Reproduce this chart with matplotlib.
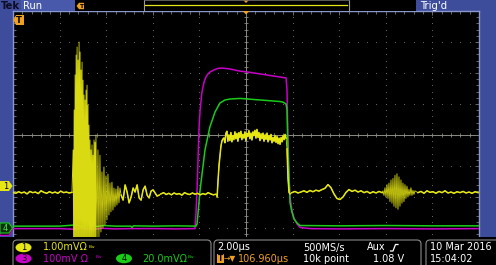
import numpy as np
import matplotlib
matplotlib.use("Agg")
import matplotlib.pyplot as plt
from matplotlib.patches import Rectangle, Polygon, Ellipse, FancyBboxPatch

plt.rcParams['font.family'] = ['DejaVu Sans']

# ---------------- data: time in microseconds (2 us/div), amplitude in screen divisions
x_limits = [-10.0, 10.0]
y_limits = [-4.0, 4.0]

# channel 3 (magenta)
ch3_t = [-10.0, -8.0, -7.4, -7.0, -6.6, -6.2, -5.6, -5.0, -4.0, -3.0,
         -2.19, -2.15, -2.10, -2.06, -2.02, -1.97, -1.89, -1.80, -1.72, -1.63,
         -1.55, -1.37, -1.20, -1.03, -0.69, -0.26, 0.17, 0.60, 1.03, 1.46,
         1.72, 1.76, 1.80, 1.85, 1.89, 1.97, 2.06, 2.19, 2.32, 2.75,
         4.0, 6.0, 8.0, 10.0]
ch3_v = [-3.02, -3.02, -3.04, -3.00, -3.05, -3.01, -3.03, -3.02, -3.02, -3.03,
         -3.02, -2.58, -1.77, -0.81, 0.16, 0.81, 1.39, 1.71, 1.87, 1.97,
         2.03, 2.10, 2.15, 2.16, 2.13, 2.06, 2.02, 1.97, 1.92, 1.87,
         1.84, 1.45, -0.16, -1.45, -2.00, -2.42, -2.68, -2.87, -2.98, -3.02,
         -3.03, -3.02, -3.03, -3.02]

# channel 4 (green)
ch4_t = [-10.0, -8.0, -7.3, -7.0, -6.7, -6.4, -6.1, -5.6, -4.95, -4.89,
         -4.83, -4.0, -3.0, -2.15, -2.10, -1.97, -1.76, -1.55, -1.33, -1.12,
         -0.90, -0.69, -0.26, 0.60, 1.46, 1.59, 1.72, 1.76, 1.80, 1.85,
         1.89, 1.97, 2.06, 2.19, 2.32, 4.0, 6.0, 8.0, 10.0]
ch4_v = [-2.94, -2.94, -2.90, -2.96, -2.89, -2.95, -2.92, -2.94, -2.94, -2.98,
         -2.93, -2.94, -2.93, -2.94, -2.87, -1.77, -0.48, 0.26, 0.74, 1.03,
         1.13, 1.16, 1.18, 1.13, 1.08, 1.06, 1.00, 0.81, -0.48, -1.45,
         -2.19, -2.48, -2.71, -2.84, -2.92, -2.93, -2.92, -2.93, -2.93]

# channel 1 (yellow), read segment by segment (uniform sampling inside each segment)
ch1_pre = [-1.85, -1.88, -1.83, -1.87, -1.84, -1.90, -1.82, -1.86, -1.84, -1.89, -1.80,
           -1.85, -1.88, -1.83, -1.87, -1.84, -1.88, -1.81, -1.86, -1.84, -1.87, -1.85]
ch1_burst_a = [-0.48, -3.55, 0.81, -3.70, 1.94, -3.60, 2.58, -3.75, 2.84, -3.65, 2.42, -3.80,
               3.00, -3.70, 2.68, -3.60, 2.10, -3.75, 2.35, -3.55, 1.77, -3.70, 1.29, -3.60,
               1.13, -3.50, 1.45, -3.65, 1.61, -3.55, 0.97, -3.45, 0.32, -3.60, -0.16, -3.40,
               -0.48, -3.50, -0.32, -3.35, -0.65, -3.45, -0.16, -3.30, -0.23, -3.40]
ch1_burst_b = [0.00, -3.39, -0.48, -3.32, -0.65, -3.13, -1.19, -3.00, -1.03, -2.90, -1.32, -2.74,
               -1.26, -2.58, -1.55, -2.48, -1.52, -2.42, -1.71, -2.32, -1.74, -2.26, -1.65, -2.19, -1.71]
ch1_ring = [-1.94, -2.10, -1.61, -1.84, -2.19, -2.00, -1.71, -1.84, -1.61, -2.03,
            -2.10, -1.77, -1.65, -1.94, -2.03, -1.81, -1.77, -1.87, -1.97, -1.94]
ch1_base = [-1.90, -1.86, -1.92, -1.88, -1.93, -1.87, -1.91, -1.89, -1.94, -1.86, -1.90,
            -1.92, -1.87, -1.91, -1.88, -1.93, -1.89, -1.92, -1.86, -1.90, -1.93, -1.91]
ch1_rise = [-2.00, -1.45, -0.97, -0.65, -0.35, -0.19, -0.13]
ch1_top = [-0.10, -0.25, 0.05, 0.12, -0.20, 0.00, -0.18, 0.08, -0.22, -0.02,
           -0.15, 0.10, -0.12, 0.05, -0.20, 0.08, -0.08, 0.12, -0.15, 0.02,
           -0.10, 0.10, -0.18, 0.05, -0.05, 0.14, -0.12, 0.06, -0.16, 0.10,
           -0.02, 0.15, -0.10, 0.18, -0.08, 0.08, -0.18, 0.04, -0.12, 0.06,
           -0.20, 0.00, -0.14, 0.06, -0.22, -0.02, -0.16, 0.02, -0.25, -0.08,
           -0.20, -0.02, -0.24, -0.05, -0.28, -0.10, -0.30, -0.08, -0.22, -0.02,
           -0.15, 0.02, -0.10]
ch1_fall = [-0.45, -1.40, -1.85, -1.90]
ch1_post = [-1.86, -1.82, -1.87, -1.84, -1.80, -1.85, -1.79, -1.83, -1.78, -1.81, -1.76,
            -1.72, -1.60, -1.70, -1.90, -2.05, -2.08, -2.00, -1.85, -1.76, -1.82, -1.78,
            -1.84, -1.80, -1.86, -1.82, -1.88, -1.83, -1.87, -1.82, -1.86]
ch1_burst2 = [-1.80, -1.95, -1.70, -2.00, -1.60, -2.05, -1.55, -2.15, -1.45, -2.20, -1.40,
              -2.30, -1.30, -2.35, -1.25, -2.40, -1.35, -2.30, -1.45, -2.20, -1.55,
              -2.15, -1.60, -2.05, -1.65, -2.00, -1.75, -1.95, -1.70, -1.95, -1.78, -1.92, -1.80]
ch1_tail = [-1.86, -1.82, -1.88, -1.80, -1.85, -1.83, -1.88, -1.82, -1.86, -1.80, -1.87,
            -1.84, -1.88, -1.83, -1.86, -1.82, -1.87, -1.84, -1.88, -1.83, -1.86]
ch1_segments = [ch1_pre, ch1_burst_a, ch1_burst_b, ch1_ring, ch1_base, ch1_rise,
                ch1_top, ch1_fall, ch1_post, ch1_burst2, ch1_tail]
ch1_seg_start = [-10.00, -7.42, -6.44, -5.36, -3.65, -1.24, -0.95, 1.76, 1.97, 5.88, 7.38]
ch1_seg_end = [-7.47, -6.46, -5.41, -3.73, -1.29, -0.99, 1.72, 1.89, 5.84, 7.25, 9.96]
ch1_is_burst = [False, True, True, False, False, False, False, False, False, True, False]

# readout texts
ch1_scale = "1.00mVΩ"
ch3_scale = "100mV Ω"
ch4_scale = "20.0mVΩ"
time_scale = "2.00µs"
trig_pos = "106.960µs"
sample_rate = "500MS/s"
rec_len = "10k point"
trig_src = "Aux"
trig_level = "1.08 V"
date_txt = "10 Mar 2016"
time_txt = "15:04:02"

# ---------------- styling
BLUE = '#3e4c9c'
RUN_BLUE = '#4858aa'
YEL = '#e6e614'
YEL_BURST = '#dada12'
MAG = '#c800c8'
GRN = '#18cc18'
ORG = '#f0a020'
GRAY = '#7a7a7a'

W, H = 496, 265
fig = plt.figure(figsize=(W / 100, H / 100), dpi=100, facecolor=BLUE)

ax = fig.add_axes([13 / W, 1 - 259 / H, 466 / W, 248 / H], zorder=1)
ax.set_facecolor('black')
ax.set_xlim(*x_limits)
ax.set_ylim(*y_limits)
ax.set_xticks(np.arange(-10, 10.01, 2))
ax.set_xticks(np.arange(-10, 10.01, 0.4), minor=True)
ax.set_yticks(np.arange(-4, 4.01, 1))
ax.set_yticks(np.arange(-4, 4.01, 0.2), minor=True)
ax.tick_params(which='both', direction='in', top=True, right=True, bottom=True, left=True,
               labelbottom=False, labelleft=False, color=GRAY, width=0.6)
ax.tick_params(which='major', length=3)
ax.tick_params(which='minor', length=2)
for sp in ax.spines.values():
    sp.set_color('#8a98d0')
    sp.set_linewidth(1.0)

# dotted graticule
xs_minor = np.arange(-10, 10.01, 0.4)
ys_minor = np.arange(-4, 4.01, 0.2)
for gx in np.arange(-8, 8.01, 2):
    if abs(gx) > 1e-9:
        ax.plot(np.full_like(ys_minor, gx), ys_minor, ls='none', marker='s', ms=0.7,
                mec='none', mfc='#6a6a6a', zorder=1)
for gy in np.arange(-3, 3.01, 1):
    if abs(gy) > 1e-9:
        ax.plot(xs_minor, np.full_like(xs_minor, gy), ls='none', marker='s', ms=0.7,
                mec='none', mfc='#6a6a6a', zorder=1)
# center cross with ticks
ax.axhline(0, color='#8c8c84', lw=0.7, zorder=1)
ax.axvline(0, color='#8c8c84', lw=0.7, zorder=1)
ax.plot(xs_minor, np.zeros_like(xs_minor), ls='none', marker='|', ms=3.2, mew=0.6,
        color='#8c8c84', zorder=1)
ax.plot(np.zeros_like(ys_minor), ys_minor, ls='none', marker='_', ms=3.2, mew=0.6,
        color='#8c8c84', zorder=1)

# traces
ax.plot(ch3_t, ch3_v, color=MAG, lw=1.1, zorder=3)
ax.plot(ch4_t, ch4_v, color=GRN, lw=1.1, zorder=4)
seg_t = [np.linspace(a, b, len(s)) for a, b, s in zip(ch1_seg_start, ch1_seg_end, ch1_segments)]
ch1_t = np.concatenate(seg_t)
ch1_v = np.concatenate([np.array(s, dtype=float) for s in ch1_segments])
ax.plot(ch1_t, ch1_v, color=YEL_BURST, lw=0.6, zorder=5)
for tt, vv, burst in zip(seg_t, ch1_segments, ch1_is_burst):
    if not burst:
        ax.plot(tt, vv, color=YEL, lw=1.1, zorder=5)

# ---------------- overlay chrome (pixel coordinates)
ov = fig.add_axes([0, 0, 1, 1], zorder=5)
ov.set_xlim(0, W)
ov.set_ylim(H, 0)
ov.axis('off')

def txt(x, y, s, c, fs=7.0, **kw):
    ov.text(x, y, s, color=c, fontsize=fs, va='center', ha='left', **kw)

# top bar
ov.add_patch(Rectangle((21, 0), 54, 10.5, fc=RUN_BLUE, ec='none'))
ov.add_patch(Rectangle((75, 0), 341, 10.5, fc='black', ec='none'))
txt(0.5, 5.8, "Tek", '#0c0c24', fs=7.2, fontweight='bold')
txt(23, 5.8, "Run", 'white', fs=7.2)
txt(420, 5.8, "Trig'd", 'white', fs=7.2)
ov.plot([143.5, 143.5], [0, 10.5], color='#9a9a9a', lw=0.8)
ov.plot([348.5, 348.5], [0, 10.5], color='#9a9a9a', lw=0.8)
ov.plot([143.5, 348.5], [0.4, 0.4], color='#6a6a6a', lw=0.6)
ov.plot([145, 347], [5.2, 5.2], color=YEL, lw=0.9)
ov.add_patch(Polygon([(76.5, 6), (79, 2.8), (84, 2.8), (84, 9.2), (79, 9.2)], closed=True,
                     fc=ORG, ec='none'))
txt(79.3, 6.2, "T", 'black', fs=4.5, fontweight='bold')
ov.add_patch(Polygon([(243, 0), (249, 0), (246, 3)], closed=True, fc=ORG, ec='none'))
ov.add_patch(Polygon([(242.5, 11), (249.5, 11), (246, 14.5)], closed=True, fc=ORG, ec='none'))

# trigger marker inside graticule
ov.add_patch(Polygon([(13.2, 20), (16, 15), (24, 15), (24, 25), (16, 25)], closed=True,
                     fc=ORG, ec='none'))
txt(16.3, 20.3, "T", 'black', fs=6, fontweight='bold')

# channel markers on the left
ov.add_patch(Polygon([(0, 181), (9, 181), (12.5, 186), (9, 191), (0, 191)], closed=True,
                     fc=YEL, ec='none'))
txt(3, 186.2, "1", 'black', fs=6)
ov.add_patch(Polygon([(0, 225.5), (9, 225.5), (12.5, 230.5), (9, 235.5), (0, 235.5)],
                     closed=True, fc='#300030', ec=MAG, lw=0.8))
ov.add_patch(Polygon([(0, 223), (9, 223), (12.5, 228), (9, 233), (0, 233)], closed=True,
                     fc='#0c300c', ec=GRN, lw=0.8))
txt(2.5, 228.2, "4", '#50e050', fs=6)

# bottom readout panel
ov.add_patch(Rectangle((0, 237), W, H - 237, fc='black', ec='none'))
for bx, bw in [(13, 198), (214, 207), (426, 90)]:
    ov.add_patch(FancyBboxPatch((bx, 240), bw, 40,
                                boxstyle='round,pad=0,rounding_size=4',
                                fc='black', ec='#8a8a8a', lw=0.8))
r1, r2 = 247.5, 258.5
ov.add_patch(Ellipse((23.5, r1), 16, 9.5, fc=YEL, ec='none'))
txt(21.3, r1 + 0.2, "1", 'black', fs=6)
ov.add_patch(Ellipse((23.5, r2), 16, 9.5, fc=MAG, ec='none'))
txt(21.3, r2 + 0.2, "3", 'black', fs=6)
ov.add_patch(Ellipse((124, r2), 16, 9.5, fc=GRN, ec='none'))
txt(121.8, r2 + 0.2, "4", 'black', fs=6)
txt(43, r1, ch1_scale, YEL)
txt(88.5, r1 - 1, "Bw", YEL, fs=3.2)
txt(43, r2, ch3_scale, MAG)
txt(96, r2 - 1, "Bw", MAG, fs=3.2)
txt(142, r2, ch4_scale, GRN)
txt(188, r2 - 1, "Bw", GRN, fs=3.2)

txt(217, r1, time_scale, 'white')
ov.add_patch(Rectangle((217, 254), 7, 9, fc=ORG, ec='none'))
txt(218.2, r2 + 0.2, "T", 'black', fs=5.5, fontweight='bold')
txt(224, r2, "→▼", ORG, fs=5.5)
txt(238, r2, trig_pos, ORG)
txt(303, r1, sample_rate, 'white')
txt(303, r2, rec_len, 'white')
txt(367, r1, trig_src, 'white')
ov.plot([390.5, 393, 395.5, 398], [251, 251, 244.5, 244.5], color='white', lw=0.9)
txt(373, r2, trig_level, 'white')
txt(430, r1, date_txt, 'white')
txt(430, r2, time_txt, 'white')

fig.savefig('out.png', dpi=100, facecolor=fig.get_facecolor())
